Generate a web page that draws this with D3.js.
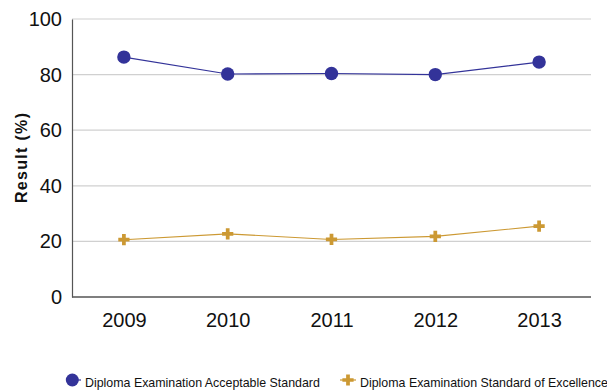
<!DOCTYPE html>
<html><head><meta charset="utf-8">
<script src="https://cdn.jsdelivr.net/npm/d3@7/dist/d3.min.js"></script>
<style>body{margin:0;background:#fff;font-family:"Liberation Sans",Arial,sans-serif;}</style>
</head><body><svg id="c" width="607" height="392"></svg>
<script>
const years = ["2009","2010","2011","2012","2013"];
const acceptable = [86.3, 80.2, 80.4, 80.0, 84.5];
const excellence = [20.6, 22.7, 20.7, 21.8, 25.5];
const yTicks = [0,20,40,60,80,100];
const seriesNames = ["Diploma Examination Acceptable Standard","Diploma Examination Standard of Excellence"];
const colors = ["#333399","#CC9933"];

const svg = d3.select("#c");
const m = {l:72, r:16, t:19, b:95};
const W = 607, H = 392;
const x = d3.scalePoint().domain(years).range([m.l, W-m.r]).padding(0.5);
const y = d3.scaleLinear().domain([0,100]).range([H-m.b, m.t]);

// gridlines
svg.append("g").selectAll("line").data(yTicks.filter(d=>d>0)).join("line")
  .attr("x1", m.l).attr("x2", W-m.r).attr("y1", d=>y(d)).attr("y2", d=>y(d))
  .attr("stroke", "#d0d0d0").attr("stroke-width", 1.2);

// y axis
const ya = svg.append("g").attr("transform", `translate(${m.l},0)`)
  .call(d3.axisLeft(y).tickValues(yTicks).tickSize(0).tickPadding(10));
ya.select(".domain").attr("stroke", "#555").attr("stroke-width", 1.2);
ya.selectAll("text").attr("font-size", 20).attr("fill", "#111").attr("font-family", "Liberation Sans, Arial, sans-serif");

// x axis
const xa = svg.append("g").attr("transform", `translate(0,${H-m.b})`)
  .call(d3.axisBottom(x).tickSize(0).tickPadding(16));
xa.select(".domain").attr("stroke", "#555").attr("stroke-width", 1.6).attr("d", `M${m.l},0H${W-m.r}`);
xa.selectAll("text").attr("font-size", 20).attr("fill", "#111").attr("font-family", "Liberation Sans, Arial, sans-serif");

// axis title
svg.append("text").attr("transform", `translate(21,${(m.t + H - m.b)/2}) rotate(-90)`)
  .attr("text-anchor", "middle").attr("dy", "0.35em").attr("font-size", 16).attr("font-weight", "bold").attr("fill", "#111")
  .attr("textLength", 90).attr("lengthAdjust", "spacing")
  .text("Result (%)");

const line = d3.line().x((d,i)=>x(years[i])).y(d=>y(d));
svg.append("path").datum(acceptable).attr("d", line).attr("fill","none").attr("stroke", colors[0]).attr("stroke-width", 1.1);
svg.append("path").datum(excellence).attr("d", line).attr("fill","none").attr("stroke", colors[1]).attr("stroke-width", 1.1);

svg.append("g").selectAll("circle").data(acceptable).join("circle")
  .attr("cx", (d,i)=>x(years[i])).attr("cy", d=>y(d)).attr("r", 6.7).attr("fill", colors[0]);

const plus = d3.symbol().type(d3.symbolCross).size(70);
svg.append("g").selectAll("path").data(excellence).join("path")
  .attr("transform", (d,i)=>`translate(${x(years[i])},${y(d)})`).attr("d", plus).attr("fill", colors[1]);

// legend
const lg = svg.append("g").attr("font-size", 12.4).attr("fill", "#111");
lg.append("line").attr("x1", 72).attr("x2", 81).attr("y1", 380).attr("y2", 380).attr("stroke", colors[0]).attr("stroke-width", 1.2);
lg.append("circle").attr("cx", 72.3).attr("cy", 380).attr("r", 6.5).attr("fill", colors[0]);
lg.append("text").attr("x", 85).attr("y", 386.5).text(seriesNames[0]);
lg.append("line").attr("x1", 340).attr("x2", 356).attr("y1", 380).attr("y2", 380).attr("stroke", colors[1]).attr("stroke-width", 1.2);
lg.append("path").attr("transform", "translate(348,380)").attr("d", plus).attr("fill", colors[1]);
lg.append("text").attr("x", 360).attr("y", 386.5).text(seriesNames[1]);
</script></body></html>
